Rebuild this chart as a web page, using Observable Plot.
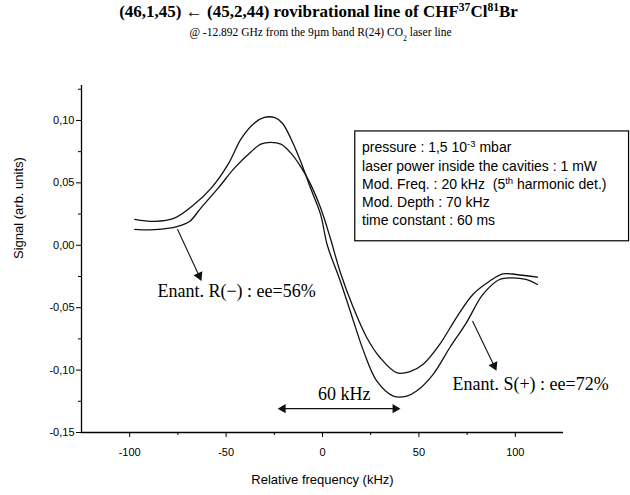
<!DOCTYPE html>
<html><head><meta charset="utf-8">
<script src="https://cdn.jsdelivr.net/npm/d3@7"></script>
<script src="https://cdn.jsdelivr.net/npm/@observablehq/plot@0.6"></script>
<style>body{margin:0;background:#fff} #chart svg{display:block}</style>
</head><body><div id="chart"></div>
<script>
const title = "(46,1,45) ← (45,2,44) rovibrational line of CHF^{37}Cl^{81}Br";
const subtitle = "@ -12.892 GHz from the 9µm band R(24) CO_{2} laser line";
const xLabel = "Relative frequency (kHz)";
const yLabel = "Signal (arb. units)";
const xTicks = [-100, -50, 0, 50, 100];
const xMinor = [-75, -25, 25, 75];
const yTicks = [-0.15, -0.10, -0.05, 0, 0.05, 0.10];
const yMinor = [-0.125, -0.075, -0.025, 0.025, 0.075, 0.125];

// Enantiomer S(+) (larger amplitude)
const freqA   = [-97.4, -87, -76.8, -66.5, -57.7, -49, -42, -35.4, -30.2, -25, -20.8, -16.5, -11.3, -6.2, -1, 2.5, 9.3, 14.4, 21.3, 28.2, 36.8, 43.7, 48.8, 57.4, 66, 74.6, 83.2, 91.8, 98.6, 105.5, 111.5];
const signalA = [0.0208, 0.0192, 0.0218, 0.0328, 0.0458, 0.0648, 0.0858, 0.0978, 0.1024, 0.1024, 0.0978, 0.0858, 0.0672, 0.0458, 0.0248, 0.0, -0.029, -0.0528, -0.0848, -0.1088, -0.1208, -0.1208, -0.1168, -0.1034, -0.0821, -0.0621, -0.0394, -0.0274, -0.0261, -0.0274, -0.0314];
// Enantiomer R(-) (smaller amplitude)
const freqB   = [-97.4, -87, -75, -69, -63, -54, -45.6, -37, -32, -26.8, -21.6, -16.5, -11.3, -6.2, -1, 4, 9.3, 16, 23, 29.9, 38.5, 45.4, 52.2, 60.8, 69.4, 78, 86.6, 93.5, 100.4, 111.5];
const signalB = [0.0128, 0.0125, 0.0152, 0.019, 0.030, 0.046, 0.062, 0.075, 0.081, 0.0824, 0.081, 0.074, 0.063, 0.049, 0.030, 0.006, -0.022, -0.050, -0.0741, -0.0901, -0.1021, -0.1013, -0.0954, -0.0794, -0.0581, -0.0394, -0.0288, -0.0229, -0.0234, -0.0256];

const boxLines = [
  "pressure : 1,5 10^{-3} mbar",
  "laser power inside the cavities : 1 mW",
  "Mod. Freq. : 20 kHz  (5^{th} harmonic det.)",
  "Mod. Depth : 70 kHz",
  "time constant : 60 ms"
];
const labelR = "Enant. R(−) : ee=56%";
const labelS = "Enant. S(+) : ee=72%";
const label60 = "60 kHz";

const A = freqA.map((f, i) => ({f, s: signalA[i]}));
const B = freqB.map((f, i) => ({f, s: signalB[i]}));

const boxPos = [{x1: 17, x2: 159, y1: 0.0032, y2: 0.0912, tx: 20.5}];
const arrowR = [{x1: -75.2, y1: 0.0128, x2: -64.0, y2: -0.0245}];
const arrowS = [{x1: 77.8, y1: -0.0607, x2: 89.0, y2: -0.0965}];
const arrow60 = [{x1: -20.5, x2: 37.7, y: -0.1309}];
const serif = "'Liberation Serif', 'Times New Roman', serif";
const sans = "'Liberation Sans', Arial, sans-serif";

const chart = Plot.plot({
  width: 630, height: 495,
  marginLeft: 81, marginRight: 67, marginTop: 85, marginBottom: 63,
  style: {fontFamily: sans, fontSize: "11px", background: "white", color: "black"},
  x: {domain: [-125, 125]},
  y: {domain: [-0.15, 0.128]},
  marks: [
    Plot.axisX(xTicks, {tickSize: 5, tickPadding: 11, tickFormat: d => String(d), label: null, fontSize: 11}),
    Plot.axisX(xMinor, {tickSize: 3, tickFormat: null, text: null, label: null}),
    Plot.axisY(yTicks, {tickSize: 5, tickPadding: 2, tickFormat: d => d.toFixed(2).replace(".", ","), label: null, fontSize: 11}),
    Plot.axisY(yMinor, {tickSize: 3, text: null, label: null}),
    Plot.ruleX([-125], {y1: -0.15, y2: 0.128, stroke: "black", strokeWidth: 1.3}),
    Plot.ruleY([-0.15], {x1: -125, x2: 125, stroke: "black", strokeWidth: 1.3}),
    Plot.line(A, {x: "f", y: "s", curve: "catmull-rom", stroke: "#111", strokeWidth: 1.3}),
    Plot.line(B, {x: "f", y: "s", curve: "catmull-rom", stroke: "#111", strokeWidth: 1.3}),
    Plot.rect(boxPos, {x1: "x1", x2: "x2", y1: "y1", y2: "y2", fill: "white", stroke: "black", strokeWidth: 1.2}),
    Plot.text(boxPos, {x: "tx", y: "y2", text: () => boxLines.join("\n"), textAnchor: "start", lineAnchor: "top", lineHeight: 1.3, dy: 8, fontSize: 14, fontFamily: sans}),
    Plot.link(arrowR, {x1: "x1", y1: "y1", x2: "x2", y2: "y2", stroke: "#111", strokeWidth: 1.1}),
    Plot.dot(arrowR, {x: "x2", y: "y2", symbol: "triangle", r: 3.6, fill: "#111", stroke: "none", rotate: 155}),
    Plot.link(arrowS, {x1: "x1", y1: "y1", x2: "x2", y2: "y2", stroke: "#111", strokeWidth: 1.1}),
    Plot.dot(arrowS, {x: "x2", y: "y2", symbol: "triangle", r: 3.6, fill: "#111", stroke: "none", rotate: 155}),
    Plot.link(arrow60, {x1: "x1", x2: "x2", y1: "y", y2: "y", stroke: "#111", strokeWidth: 1.1}),
    Plot.dot(arrow60, {x: "x1", y: "y", symbol: "triangle", r: 3.4, fill: "#111", stroke: "none", rotate: -90}),
    Plot.dot(arrow60, {x: "x2", y: "y", symbol: "triangle", r: 3.4, fill: "#111", stroke: "none", rotate: 90}),
    Plot.text([labelR], {x: () => -85.6, y: () => -0.0367, text: d => d, textAnchor: "start", fontSize: 18, fontFamily: serif}),
    Plot.text([labelS], {x: () => 67.4, y: () => -0.111, text: d => d, textAnchor: "start", fontSize: 18, fontFamily: serif}),
    Plot.text([label60], {x: () => 11.3, y: () => -0.1197, text: d => d, fontSize: 18, fontFamily: serif}),
    Plot.text([title], {frameAnchor: "top", dy: -81, dx: -4, text: d => d, fontSize: 17, fontWeight: "bold", fontFamily: serif}),
    Plot.text([subtitle], {frameAnchor: "top", dy: -58, dx: -2, text: d => d, fontSize: 11.5, fontFamily: serif}),
    Plot.text([xLabel], {frameAnchor: "bottom", dy: 51, text: d => d, fontSize: 13, fontFamily: sans}),
    Plot.text([yLabel], {frameAnchor: "left", dx: -63, rotate: -90, text: d => d, fontSize: 13, fontFamily: sans})
  ]
});

function mk(s) {
  const t = document.createElementNS("http://www.w3.org/2000/svg", "tspan");
  t.textContent = s;
  return t;
}
chart.querySelectorAll("text, tspan").forEach(el => {
  if (el.children.length) return;
  const s = el.textContent;
  if (!/[\^_]\{/.test(s)) return;
  el.textContent = "";
  const re = /([\^_])\{([^}]*)\}/g;
  let last = 0, m;
  while ((m = re.exec(s))) {
    if (m.index > last) el.appendChild(mk(s.slice(last, m.index)));
    const t = mk(m[2]);
    t.setAttribute("baseline-shift", m[1] === "^" ? "super" : "sub");
    t.setAttribute("font-size", "68%");
    el.appendChild(t);
    last = re.lastIndex;
  }
  if (last < s.length) el.appendChild(mk(s.slice(last)));
});
document.getElementById("chart").appendChild(chart);
</script>
</body></html>
